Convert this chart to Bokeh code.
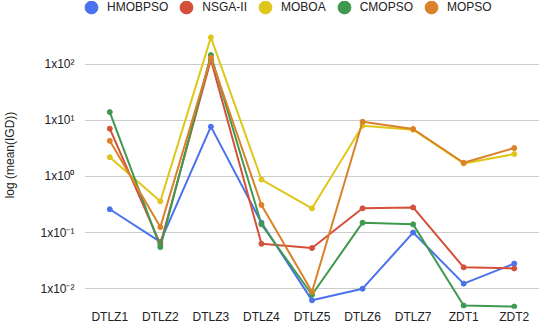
from bokeh.plotting import figure
from bokeh.models import Range1d, FactorRange, FixedTicker, CustomJSTickFormatter, Legend, LegendItem
from bokeh.embed import file_html
from bokeh.resources import INLINE

problems = ["DTLZ1", "DTLZ2", "DTLZ3", "DTLZ4", "DTLZ5", "DTLZ6", "DTLZ7", "ZDT1", "ZDT2"]
series_names = ["HMOBPSO", "NSGA-II", "MOBOA", "CMOPSO", "MOPSO"]
hmobpso = [0.26, 0.068, 7.7, 0.15, 0.0062, 0.010, 0.10, 0.0123, 0.028]
nsga2 = [7.1, 0.062, 120, 0.063, 0.053, 0.27, 0.28, 0.024, 0.023]
moboa = [2.2, 0.36, 300, 0.88, 0.27, 8.0, 6.8, 1.7, 2.5]
cmopso = [14, 0.055, 145, 0.14, 0.0078, 0.15, 0.14, 0.0050, 0.0048]
mopso = [4.3, 0.125, 130, 0.31, 0.0088, 9.4, 7.0, 1.75, 3.2]
colors = ["#4a72ec", "#d5503a", "#e0c61a", "#3f9a50", "#d9822a"]
y_ticks = [0.01, 0.1, 1, 10, 100]
y_tick_labels = ["1x10\u207b\u00b2", "1x10\u207b\u00b9", "1x10\u2070", "1x10\u00b9", "1x10\u00b2"]

FONT = "Liberation Sans"

p = figure(width=541, height=326, x_range=FactorRange(*problems), y_axis_type="log",
           y_range=Range1d(10 ** -2.353, 10 ** 3.116), output_backend="svg",
           toolbar_location=None, min_border_left=75, min_border_right=2,
           min_border_top=1, min_border_bottom=15)
p.outline_line_color = None
p.background_fill_color = "white"
p.xgrid.grid_line_color = None
p.ygrid.grid_line_color = "#cccccc"
p.ygrid.grid_line_width = 1

ticker = FixedTicker(ticks=y_ticks)
p.yaxis.ticker = ticker
p.ygrid.ticker = ticker
p.yaxis.formatter = CustomJSTickFormatter(args=dict(tvals=y_ticks, tlabels=y_tick_labels), code="""
for (let i = 0; i < tvals.length; i++) {
  if (Math.abs(Math.log10(tick) - Math.log10(tvals[i])) < 1e-6) return tlabels[i];
}
return "";
""")

for ax in (p.xaxis, p.yaxis):
    ax.axis_line_color = None
    ax.major_tick_line_color = None
    ax.minor_tick_line_color = None
    ax.major_tick_out = 0
    ax.major_tick_in = 0
    ax.minor_tick_out = 0
    ax.major_label_text_font = FONT
    ax.major_label_text_font_size = "12px"
    ax.major_label_text_color = "#222222"

p.yaxis.major_label_standoff = 10
p.xaxis.major_label_standoff = 1
p.yaxis.axis_label = "log (mean(IGD))"
p.yaxis.axis_label_text_font = FONT
p.yaxis.axis_label_text_font_size = "12px"
p.yaxis.axis_label_text_font_style = "normal"
p.yaxis.axis_label_text_color = "#222222"
p.yaxis.axis_label_standoff = 20

all_series = [hmobpso, nsga2, moboa, cmopso, mopso]
items = []
for name, vals, c in zip(series_names, all_series, colors):
    p.line(problems, vals, line_color=c, line_width=2)
    r = p.scatter(problems, vals, size=5, fill_color=c, line_color=c)
    items.append(LegendItem(label=name, renderers=[r]))

legend = Legend(items=items, orientation="horizontal", location=(-9, 285),
                glyph_width=32, glyph_height=32, label_standoff=0, spacing=2,
                padding=0, margin=0, border_line_color=None, background_fill_alpha=0,
                label_text_font=FONT, label_text_font_size="12px",
                label_text_color="#222222", label_height=16)
p.add_layout(legend, "center")

open("out.html", "w").write(file_html(p, INLINE))
